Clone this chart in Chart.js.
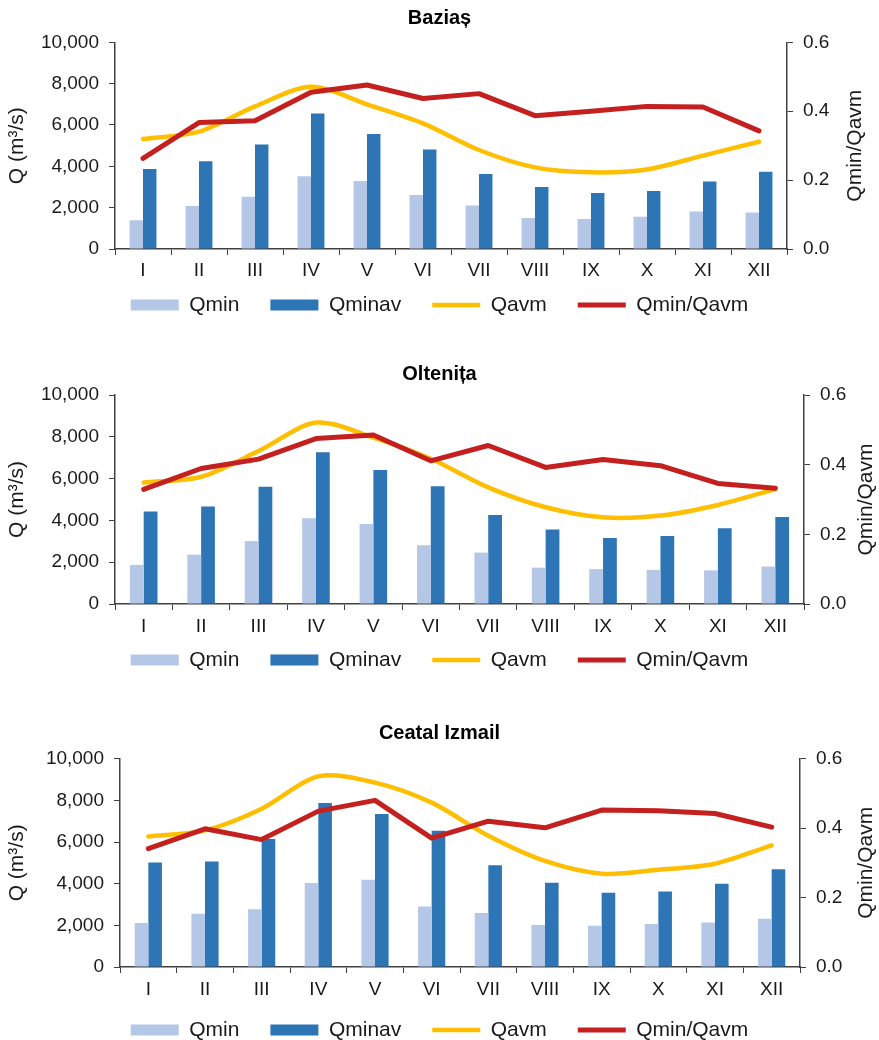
<!DOCTYPE html>
<html lang="ro">
<head>
<meta charset="UTF-8">
<title>Qmin / Qavm</title>
<script src="https://cdn.jsdelivr.net/npm/chart.js@4.4.0/dist/chart.umd.min.js"></script>
<style>
  html, body { margin: 0; padding: 0; background: #fff; overflow: hidden; }
  .panel { position: absolute; left: 0; }
</style>
</head>
<body>
<div class="panel" style="top:0px"><canvas id="c1" width="879" height="330"></canvas></div>
<div class="panel" style="top:350px"><canvas id="c2" width="879" height="340"></canvas></div>
<div class="panel" style="top:705px"><canvas id="c3" width="879" height="350"></canvas></div>

<script>
// months
const months = ['I', 'II', 'III', 'IV', 'V', 'VI', 'VII', 'VIII', 'IX', 'X', 'XI', 'XII'];

// Baziaș
const bazQmin   = [1390, 2080, 2530, 3520, 3290, 2610, 2110, 1500, 1450, 1560, 1820, 1760];
const bazQminav = [3870, 4240, 5060, 6560, 5560, 4810, 3630, 3000, 2710, 2810, 3270, 3740];
const bazQavm   = [5320, 5680, 6900, 7850, 7000, 6080, 4790, 3950, 3710, 3850, 4520, 5190];
const bazRatio  = [0.263, 0.367, 0.372, 0.455, 0.476, 0.437, 0.451, 0.387, 0.400, 0.414, 0.412, 0.343];

// Oltenița
const oltQmin   = [1870, 2360, 3010, 4100, 3830, 2810, 2460, 1740, 1670, 1630, 1610, 1790];
const oltQminav = [4420, 4660, 5610, 7260, 6410, 5630, 4260, 3570, 3160, 3250, 3620, 4160];
const oltQavm   = [5810, 6090, 7320, 8680, 7960, 6950, 5580, 4630, 4150, 4230, 4740, 5500];
const oltRatio  = [0.329, 0.389, 0.416, 0.475, 0.485, 0.411, 0.455, 0.392, 0.415, 0.397, 0.346, 0.332];

// Ceatal Izmail
const cizQmin   = [2110, 2560, 2770, 4030, 4190, 2900, 2590, 2020, 1980, 2060, 2140, 2320];
const cizQminav = [5020, 5060, 6140, 7870, 7340, 6540, 4880, 4050, 3570, 3630, 4000, 4690];
const cizQavm   = [6270, 6560, 7600, 9150, 8850, 7890, 6300, 5090, 4480, 4670, 4960, 5840];
const cizRatio  = [0.341, 0.398, 0.367, 0.449, 0.480, 0.371, 0.420, 0.401, 0.452, 0.450, 0.442, 0.403];

// axis ticks
const qTicks = [0, 2000, 4000, 6000, 8000, 10000];
const ratioTicks = [0.0, 0.2, 0.4, 0.6];

const FONT = '"Liberation Sans", Arial, sans-serif';
const AXIS = '#404040';
const TXT = '#1a1a1a';

Chart.defaults.font.family = FONT;
Chart.defaults.color = TXT;

// Excel-style secondary axis title (reads bottom to top)
const rightTitle = {
  id: 'rightTitle',
  afterDraw(chart, args, opts) {
    const ctx = chart.ctx;
    const a = chart.chartArea;
    ctx.save();
    ctx.translate(opts.x, (a.top + a.bottom) / 2);
    ctx.rotate(-Math.PI / 2);
    ctx.font = '21px ' + FONT;
    ctx.fillStyle = TXT;
    ctx.textAlign = 'center';
    ctx.textBaseline = 'middle';
    ctx.fillText(opts.text, 0, 0);
    ctx.restore();
  }
};

function makeChart(id, title, qmin, qminav, qavm, ratio, g) {
  const ctx = document.getElementById(id).getContext('2d');
  return new Chart(ctx, {
    type: 'bar',
    data: {
      labels: months,
      datasets: [
        { label: 'Qmin', data: qmin, backgroundColor: '#b4c7e7', yAxisID: 'y', order: 2,
          categoryPercentage: 0.48, barPercentage: 1.0 },
        { label: 'Qminav', data: qminav, backgroundColor: '#2e75b6', yAxisID: 'y', order: 3,
          categoryPercentage: 0.48, barPercentage: 1.0 },
        { type: 'line', label: 'Qavm', data: qavm, borderColor: '#ffbf00', backgroundColor: '#ffbf00',
          borderWidth: 4.5, pointRadius: 0, tension: 0.3, yAxisID: 'y', order: 1,
          borderCapStyle: 'round', borderJoinStyle: 'round' },
        { type: 'line', label: 'Qmin/Qavm', data: ratio, borderColor: '#c3201f', backgroundColor: '#c3201f',
          borderWidth: 5, pointRadius: 0, tension: 0, yAxisID: 'y1', order: 0,
          borderCapStyle: 'round', borderJoinStyle: 'round' }
      ]
    },
    options: {
      responsive: false,
      animation: false,
      devicePixelRatio: 1,
      layout: { padding: { top: g.padTop, bottom: g.padBottom, left: 0, right: 0 } },
      plugins: {
        title: {
          display: true, text: title, color: '#000',
          font: { size: 20, weight: 'bold' },
          padding: { top: 0, bottom: g.titleGap }
        },
        legend: {
          position: 'bottom',
          labels: {
            usePointStyle: true,
            pointStyleWidth: 48,
            boxHeight: 11,
            padding: 31,
            color: TXT,
            font: { size: 21 },
            generateLabels(chart) {
              const items = Chart.defaults.plugins.legend.labels.generateLabels(chart);
              items.forEach(it => {
                const ds = chart.data.datasets[it.datasetIndex];
                it.pointStyle = ds.type === 'line' ? 'line' : 'rect';
              });
              return items.sort((a, b) => a.datasetIndex - b.datasetIndex);
            }
          }
        },
        tooltip: { enabled: false },
        rightTitle: { text: 'Qmin/Qavm', x: g.rightTitleX }
      },
      scales: {
        x: {
          grid: { offset: true, drawOnChartArea: false, drawTicks: true, tickLength: 6, color: AXIS },
          border: { display: true, color: AXIS, width: 1.5 },
          ticks: { padding: g.xPad, color: TXT, font: { size: 19 }, maxRotation: 0 },
          afterFit(s) {
            s.height = g.xh;
            // labels sit below the squeezed axis box, so don't clip them to it
            s._computeLabelArea = () => undefined;
          }
        },
        y: {
          position: 'left',
          min: 0, max: 10000,
          afterBuildTicks(s) { s.ticks = qTicks.map(v => ({ value: v })); },
          grid: { drawOnChartArea: false, drawTicks: true, tickLength: 6, color: AXIS },
          border: { display: true, color: AXIS, width: 1.5 },
          ticks: { padding: 10, color: TXT, font: { size: 19 },
                   callback: v => v.toLocaleString('en-US') },
          title: { display: true, text: 'Q (m³/s)', color: TXT, font: { size: 21 },
                   padding: { top: 5, bottom: 0 } },
          afterFit(s) { s.width = g.left; }
        },
        y1: {
          position: 'right',
          min: 0, max: 0.6,
          afterBuildTicks(s) { s.ticks = ratioTicks.map(v => ({ value: v })); },
          grid: { drawOnChartArea: false, drawTicks: true, tickLength: 6, color: AXIS },
          border: { display: true, color: AXIS, width: 1.5 },
          ticks: { padding: 10, color: TXT, font: { size: 19 },
                   callback: v => Number(v).toFixed(1) },
          afterFit(s) { s.width = 879 - g.right; }
        }
      }
    },
    plugins: [rightTitle]
  });
}

makeChart('c1', 'Baziaș', bazQmin, bazQminav, bazQavm, bazRatio,
  { padTop: 6, titleGap: 12.3, padBottom: 4.5, xh: 14.5, xPad: 4.6, left: 115, right: 787, rightTitleX: 855 });
makeChart('c2', 'Oltenița', oltQmin, oltQminav, oltQavm, oltRatio,
  { padTop: 12, titleGap: 9, padBottom: 9.5, xh: 14.5, xPad: 5.6, left: 115, right: 804, rightTitleX: 866 });
makeChart('c3', 'Ceatal Izmail', cizQmin, cizQminav, cizQavm, cizRatio,
  { padTop: 16, titleGap: 13.7, padBottom: 4.5, xh: 21.5, xPad: 5.6, left: 120, right: 800, rightTitleX: 866 });
</script>
</body>
</html>
